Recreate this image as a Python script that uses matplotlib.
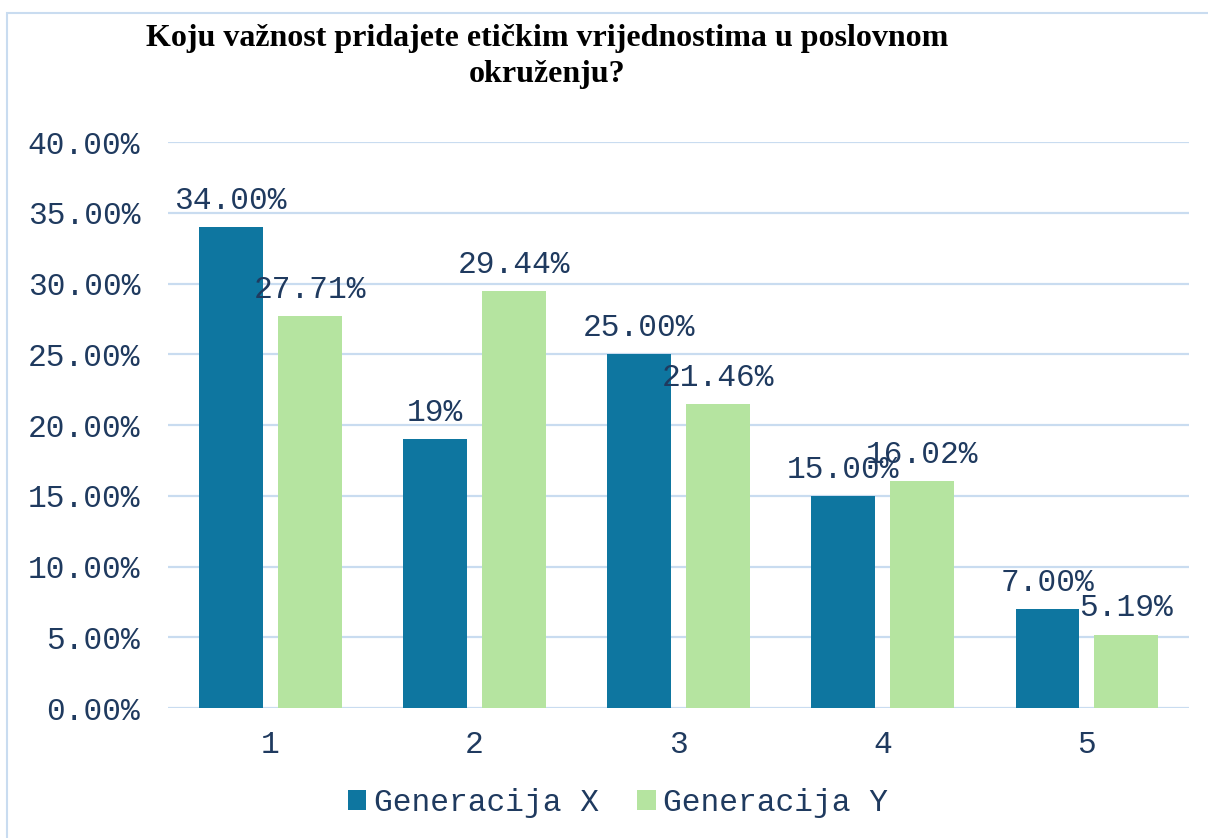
import matplotlib
matplotlib.use("Agg")
import matplotlib.pyplot as plt
from matplotlib.patches import Rectangle
import numpy as np

categories = ["1", "2", "3", "4", "5"]
gen_x = [34.00, 19.00, 25.00, 15.00, 7.00]
gen_y = [27.71, 29.44, 21.46, 16.02, 5.19]
labels_x = ["34.00%", "19%", "25.00%", "15.00%", "7.00%"]
labels_y = ["27.71%", "29.44%", "21.46%", "16.02%", "5.19%"]
series_names = ["Generacija X", "Generacija Y"]

col_x = '#0e76a0'
col_y = '#b5e4a0'
txt = '#1f3a5f'
grid_col = '#c9dcf0'
mono = 'Liberation Mono'
fs = 22.5

fig = plt.figure(figsize=(12.08, 8.38), dpi=100)
ax = fig.add_axes([0.1391, 0.1551, 0.8452, 0.6754])

# chart border
fig.patches.append(Rectangle((7 / 1208, -0.01), 1.2, 1 - 13 / 838 + 0.01,
                             transform=fig.transFigure, fill=False,
                             edgecolor='#c9dcf0', linewidth=1.5))

pos = np.arange(len(categories))
w = 0.313
off = 0.193
bx = ax.bar(pos - off, gen_x, w, color=col_x, label=series_names[0], zorder=3)
by = ax.bar(pos + off, gen_y, w, color=col_y, label=series_names[1], zorder=3)

for rect, lab in zip(bx, labels_x):
    ax.annotate(lab, (rect.get_x() + rect.get_width() / 2, rect.get_height()),
                xytext=(0, 8), textcoords='offset points', ha='center', va='bottom',
                fontsize=fs, family=mono, color=txt, zorder=4)
for rect, lab in zip(by, labels_y):
    ax.annotate(lab, (rect.get_x() + rect.get_width() / 2, rect.get_height()),
                xytext=(0, 8), textcoords='offset points', ha='center', va='bottom',
                fontsize=fs, family=mono, color=txt, zorder=4)

ax.set_xlim(-0.5, len(categories) - 0.5)
ax.set_ylim(0, 40)
ax.set_yticks(np.arange(0, 41, 5))
ax.set_yticklabels([f"{v:.2f}%" for v in np.arange(0, 41, 5)])
ax.set_xticks(pos)
ax.set_xticklabels(categories)
ax.tick_params(length=0, labelsize=fs, labelcolor=txt)
ax.tick_params(axis='y', pad=20)
ax.tick_params(axis='x', pad=16)
for t in ax.get_xticklabels() + ax.get_yticklabels():
    t.set_family(mono)
ax.yaxis.grid(True, color=grid_col, linewidth=1.6, zorder=0)
for s in ax.spines.values():
    s.set_visible(False)

fig.text(0.453, 1 - 24 / 838,
         "Koju važnost pridajete etičkim vrijednostima u poslovnom\nokruženju?",
         ha='center', va='top', fontsize=23, fontweight='bold',
         family='Liberation Serif', color='black', linespacing=1.3)

leg = fig.legend(loc='center', bbox_to_anchor=(0.5116, 0.042), ncol=2, frameon=False,
                 prop={'family': mono, 'size': fs}, handlelength=0.6, handleheight=0.6,
                 handletextpad=0.25, columnspacing=1.2)
for t in leg.get_texts():
    t.set_color(txt)

fig.savefig("out.png", dpi=100)
